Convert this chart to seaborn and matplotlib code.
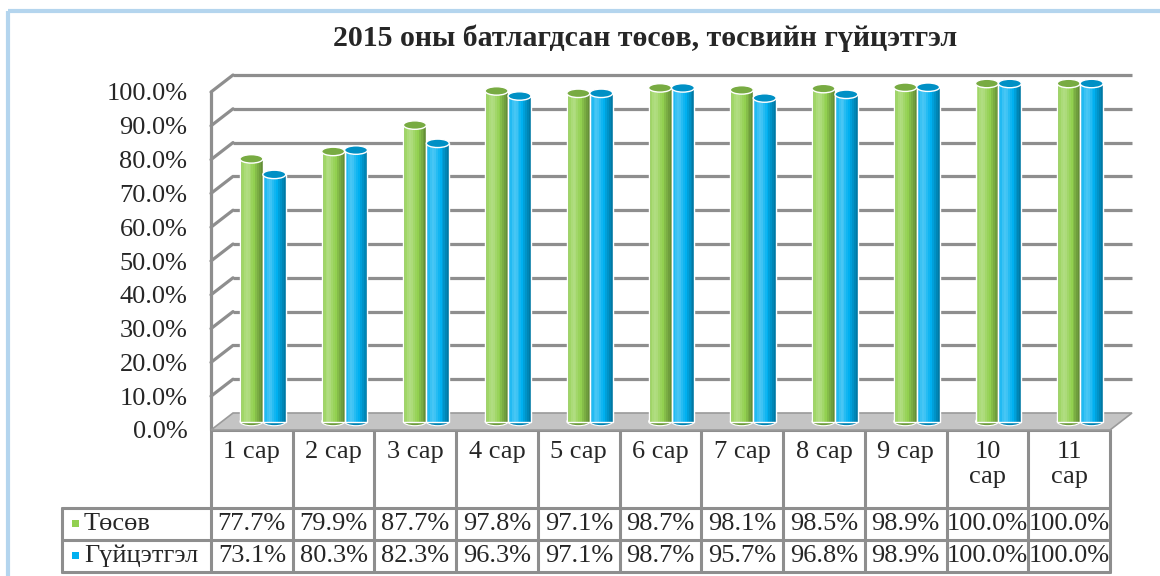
import numpy as np
import pandas as pd
import matplotlib
matplotlib.use("Agg")
import matplotlib.pyplot as plt
import seaborn as sns
from matplotlib.transforms import ScaledTranslation
from matplotlib.patches import Rectangle, Ellipse, Polygon
from matplotlib.colors import to_rgb

# ---------------- data ----------------
months = ["1 сар", "2 сар", "3 сар", "4 сар", "5 сар", "6 сар",
          "7 сар", "8 сар", "9 сар", "10 сар", "11 сар"]
plan = [77.7, 79.9, 87.7, 97.8, 97.1, 98.7, 98.1, 98.5, 98.9, 100.0, 100.0]
actual = [73.1, 80.3, 82.3, 96.3, 97.1, 98.7, 95.7, 96.8, 98.9, 100.0, 100.0]
series_names = ["Төсөв", "Гүйцэтгэл"]
series_colors = ["#92d050", "#00b0f0"]
yticks = list(range(0, 101, 10))
title = "2015 оны батлагдсан төсөв, төсвийн гүйцэтгэл"

df = pd.DataFrame({
    "month": months * 2,
    "value": plan + actual,
    "series": [series_names[0]] * len(months) + [series_names[1]] * len(months),
})

# ---------------- style ----------------
sns.set_theme(style="white")
plt.rcParams["font.family"] = ["Liberation Serif", "DejaVu Serif"]
FS = 19
GRID = "#8e8e8e"

W, H = 1160, 576
fig = plt.figure(figsize=(W / 100, H / 100), dpi=100)
fig.patch.set_facecolor("white")

# front plane of the 3-D box (pixels)
FL, FR, FB, FT = 211, 1110, 430, 92
ax = fig.add_axes([FL / W, 1 - FB / H, (FR - FL) / W, (FB - FT) / H])
ax.patch.set_alpha(0)

sns.barplot(data=df, x="month", y="value", hue="series", order=months,
            hue_order=series_names, palette=series_colors, saturation=1,
            width=0.56, ax=ax, legend=False, zorder=3)
ax.set_xlim(-0.5, len(months) - 0.5)
ax.set_ylim(0, 100)
for s in ax.spines.values():
    s.set_visible(False)
ax.set_xticks([])
ax.set_xlabel("")
ax.set_ylabel("")
ax.set_yticks(yticks)
ax.set_yticklabels([f"{v:.1f}%" for v in yticks], fontsize=FS)
ax.tick_params(axis="y", length=0, pad=17)

bars = list(ax.patches)

back = ax.transData + ScaledTranslation(0.22, 0.17, fig.dpi_scale_trans)
mid = ax.transData + ScaledTranslation(0.11, 0.085, fig.dpi_scale_trans)
x0, x1 = ax.get_xlim()

# back wall gridlines
for v in yticks[1:]:
    ax.plot([x0, x1], [v, v], color=GRID, lw=2.3, transform=back,
            zorder=0.5, clip_on=False, solid_capstyle="butt")
# side wall
fig.canvas.draw()
for v in yticks[1:]:
    fx, fy = ax.transData.transform((x0, v))
    bx, by = back.transform((x0, v))
    ax.plot([fx, bx], [fy, by], color=GRID, lw=2.3, transform=None,
            zorder=0.5, clip_on=False)
fx0, fy0 = ax.transData.transform((x0, 0))
fx1, fy1 = ax.transData.transform((x0, 100))
ax.plot([fx0, fx1], [fy0, fy1], color=GRID, lw=2.3, transform=None,
        zorder=0.5, clip_on=False)

# floor
pts = [ax.transData.transform(p) for p in [(x0, 0), (x1, 0)]]
pts += [back.transform(p) for p in [(x1, 0), (x0, 0)]]
ax.add_patch(Polygon(pts, closed=True, facecolor="#c4c4c4", edgecolor="#9a9a9a",
                     lw=1.2, transform=None, zorder=1, clip_on=False))


def shade(c, a):
    c = np.array(to_rgb(c))
    return c + (1 - c) * a if a >= 0 else c * (1 + a)


# cylinders
ell_h = 2.5
n = 12
for p in bars:
    bx, bw, bh = p.get_x(), p.get_width(), p.get_height()
    base = p.get_facecolor()
    # bottom cap
    ax.add_patch(Ellipse((bx + bw / 2, 0), bw, ell_h, facecolor=shade(base, -0.25),
                         edgecolor="white", lw=0.8, transform=mid, zorder=2.8,
                         clip_on=False))
    for k in range(n):
        t = (k + 0.5) / n
        a = 0.28 * np.exp(-((t - 0.3) / 0.2) ** 2) - 0.35 * max(0, t - 0.6) / 0.4 \
            - 0.15 * max(0, 0.12 - t) / 0.12
        ax.add_patch(Rectangle((bx + bw * k / n, 0), bw / n + 0.002, bh,
                               facecolor=shade(base, a), edgecolor="none",
                               transform=mid, zorder=2.9, clip_on=False))
    p.set_transform(mid)
    p.set_facecolor("none")
    p.set_edgecolor("white")
    p.set_linewidth(1.0)
    p.set_clip_on(False)
    ax.add_patch(Ellipse((bx + bw / 2, bh), bw, ell_h, facecolor=shade(base, -0.18),
                         edgecolor="white", lw=1.0, transform=mid, zorder=3.1,
                         clip_on=False))

# ---------------- overlay: title, table, frame ----------------
tab = fig.add_axes([0, 0, 1, 1], zorder=-1)
tab.set_xlim(0, W)
tab.set_ylim(H, 0)
tab.axis("off")

tab.add_patch(Rectangle((8, 11), W + 20, H + 20, facecolor="none",
                        edgecolor="#b4d5ee", lw=3, clip_on=False))
tab.text(645, 38, title, ha="center", va="center", fontsize=21.5, fontweight="bold")

edges = [ax.transData.transform((i - 0.5, 0))[0] for i in range(len(months) + 1)]
centers = [(edges[i] + edges[i + 1]) / 2 for i in range(len(months))]
TL = 62
r0, r1, r2, r3 = 430, 508, 540, 572
LW = 2.2
tab.plot([edges[0], edges[-1]], [r0, r0], color=GRID, lw=LW)
for y in (r1, r2, r3):
    tab.plot([TL, edges[-1]], [y, y], color=GRID, lw=LW)
tab.plot([TL, TL], [r1, r3], color=GRID, lw=LW)
for e in edges:
    tab.plot([e, e], [r0, r3], color=GRID, lw=LW)

for i, m in enumerate(months):
    num, word = m.split(" ")
    lab = m if len(num) == 1 else f"{num}\n{word}"
    tab.text(centers[i], 441, lab, ha="center", va="top", fontsize=FS,
             linespacing=1.15)
    tab.text(centers[i], (r1 + r2) / 2, f"{plan[i]:.1f}%", ha="center",
             va="center", fontsize=FS)
    tab.text(centers[i], (r2 + r3) / 2, f"{actual[i]:.1f}%", ha="center",
             va="center", fontsize=FS)

for j, (nm, col) in enumerate(zip(series_names, series_colors)):
    yc = [(r1 + r2) / 2, (r2 + r3) / 2][j]
    tab.add_patch(Rectangle((72, yc - 4), 7, 7, facecolor=col, edgecolor="none"))
    tab.text(84, yc, nm, ha="left", va="center", fontsize=FS)

fig.savefig("out.png", dpi=100)
